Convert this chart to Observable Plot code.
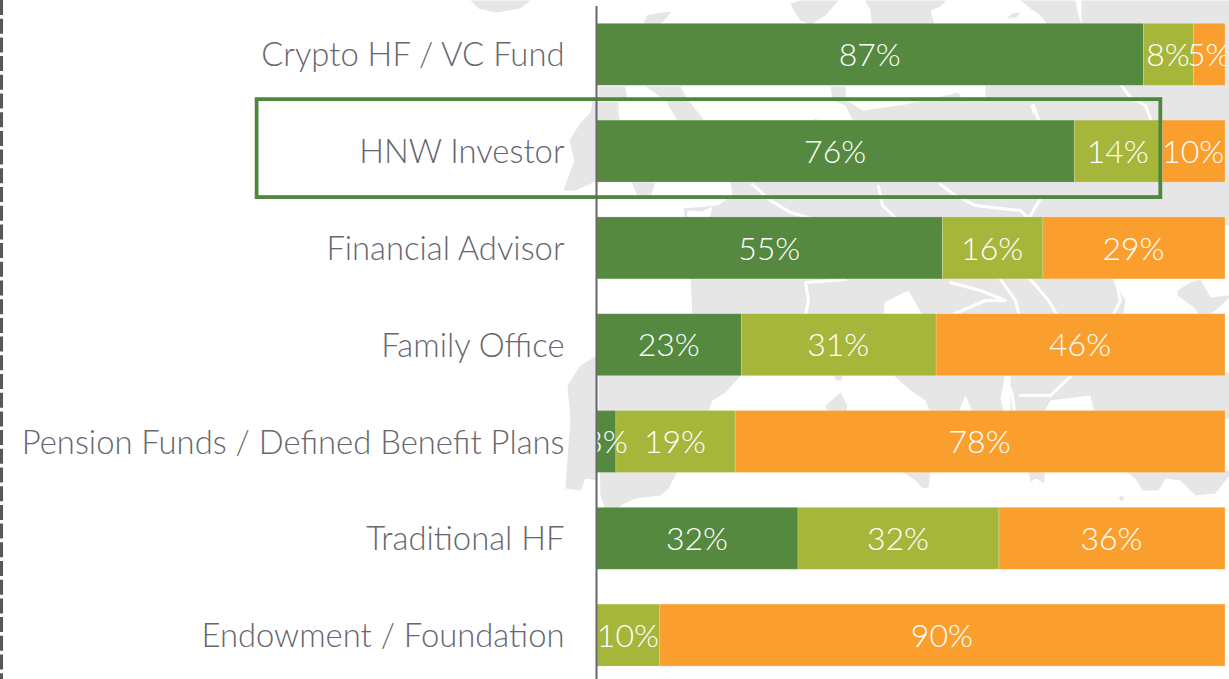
<!DOCTYPE html>
<html>
<head>
<meta charset="utf-8">
<script src="https://cdn.jsdelivr.net/npm/d3@7"></script>
<script src="https://cdn.jsdelivr.net/npm/@observablehq/plot@0.6"></script>
<style>
html,body{margin:0;padding:0;background:#fff;overflow:hidden}
#wrap{position:relative;width:1229px;height:679px}
#wrap svg{position:absolute;left:0;top:0;background:transparent}
</style>
</head>
<body>
<div id="wrap"></div>
<script>
const categories = ["Crypto HF / VC Fund","HNW Investor","Financial Advisor","Family Office","Pension Funds / Defined Benefit Plans","Traditional HF","Endowment / Foundation"];
const highShare   = [87,76,55,23,3,32,0];
const midShare    = [8,14,16,31,19,32,10];
const lowShare    = [5,10,29,46,78,36,90];
const seriesNames = ["High","Medium","Low"];
const seriesColors = ["#54893f","#a5b63b","#fa9f2d"];
const highlighted = "HNW Investor";

// faint world-map backdrop, as rough land outlines in picture units
const land = [
 [[470,0],[530,0],[520,8],[495,12],[478,8]],
 [[643,23],[646,15],[655,13],[671,11],[663,21],[650,28]],
 [[790,3],[800,0],[838,0],[825,15],[810,24],[800,20],[792,8]],
 [[865,0],[945,0],[940,6],[930,10],[935,28],[872,28],[870,10]],
 [[1006,18],[1012,13],[1020,12],[1016,17]],
 [[1020,0],[1075,0],[1078,15],[1082,28],[1050,28],[1040,15],[1030,8]],
 [[1081,0],[1229,0],[1229,90],[1081,90]],
 [[563,190],[574,160],[569,140],[580,122],[590,112],[592,101],[618,101],[618,112],[620,125],[597,125],[597,180],[575,190]],
 [[598,86],[625,86],[627,100],[598,100]],
 [[645,86],[680,86],[688,100],[708,125],[680,125],[665,100]],
 [[808,122],[815,118],[822,122],[822,130],[808,130]],
 [[830,86],[845,86],[846,100],[862,110],[905,104],[958,92],[962,100],[1000,100],[1030,105],[1036,125],[855,125],[845,105],[832,100]],
 [[985,85],[1229,85],[1229,185],[1036,185],[1033,105],[985,100]],
 [[631,182],[655,182],[650,196],[638,198]],
 [[730,180],[1229,180],[1229,225],[686,225],[683,208],[717,205],[732,195]],
 [[690,275],[1110,275],[1125,300],[1122,320],[692,320]],
 [[1177,290],[1190,282],[1200,279],[1210,297],[1229,295],[1229,297],[1215,310],[1200,319],[1195,308],[1177,295]],
 [[597,355],[580,365],[567,385],[570,420],[566,470],[565,488],[580,490],[585,478],[597,480],[597,380]],
 [[598,372],[743,372],[725,392],[712,400],[705,418],[598,418]],
 [[833,372],[843,372],[841,380],[835,380]],
 [[840,392],[847,405],[845,418],[830,418],[825,405]],
 [[890,372],[1005,372],[1000,398],[1005,418],[975,418],[965,395],[955,418],[932,418],[925,400],[910,390]],
 [[1010,372],[1229,372],[1229,418],[1095,418],[1090,395],[1050,400],[1040,418],[1010,418]],
 [[598,418],[705,418],[668,488],[660,495],[635,498],[620,505],[612,520],[605,510],[600,495]],
 [[900,470],[930,470],[928,487],[922,488],[915,480]],
 [[1028,470],[1044,470],[1044,483],[1035,478],[1030,481]],
 [[1125,470],[1229,470],[1229,475],[1215,493],[1195,495],[1180,480],[1165,478],[1158,490],[1142,490],[1135,478]],
 [[1118,498],[1121,495],[1124,498],[1121,501]]
];
const water = [
 [[883,320],[884,302],[896,296],[908,290],[925,320]],
 [[686,222],[687,210],[702,211],[712,206],[708,222]]
];
const coasts = [
 [[1121,85],[1130,97],[1145,105],[1150,118]],
 [[1033,105],[1040,125]],
 [[752,184],[770,200],[790,212],[825,222]],
 [[878,186],[882,205],[900,222]],
 [[940,184],[955,195],[975,205],[1000,208],[1020,210],[1030,220]],
 [[1040,198],[1030,215],[1022,222]],
 [[845,279],[805,282],[808,300],[805,315]],
 [[950,282],[980,290],[1005,300],[985,300],[950,315]],
 [[1000,279],[1015,300],[1020,320]],
 [[1030,279],[1048,300],[1060,320]],
 [[1115,279],[1120,300],[1110,320]],
 [[1005,376],[1012,395],[1015,420]],
 [[1020,395],[1050,395],[1070,376]]
];

const toRows = shapes => shapes.flatMap((shape, id) => shape.map(([x, y]) => ({id, x, y})));
const shares = [highShare, midShare, lowShare];
const rows = seriesNames.flatMap((series, s) =>
  categories.map((category, i) => ({category, series, value: shares[s][i]})));

const font = {fontFamily: "Lato", fontWeight: 300, background: "transparent"};

const backdrop = Plot.plot({
  width: 1229, height: 679, margin: 0, style: font,
  x: {domain: [0, 1229], range: [0, 1229], axis: null},
  y: {domain: [0, 679], range: [0, 679], axis: null},
  marks: [
    Plot.line(toRows(land), {x: "x", y: "y", z: "id", fill: "#e6e6e6", stroke: null}),
    Plot.line(toRows(water), {x: "x", y: "y", z: "id", fill: "#fff", stroke: null}),
    Plot.line(toRows(coasts), {x: "x", y: "y", z: "id", stroke: "#fff", strokeWidth: 3})
  ]
});

const chart = Plot.plot({
  width: 1229, height: 679,
  marginLeft: 597, marginRight: 4, marginTop: 6, marginBottom: 0,
  style: font,
  x: {domain: [0, 100], axis: null},
  y: {domain: categories, range: [5.9, 683.5], paddingInner: 0.36, paddingOuter: 0.18, round: false, axis: null},
  color: {domain: seriesNames, range: seriesColors},
  marks: [
    Plot.barX(rows, Plot.stackX({x: "value", y: "category", fill: "series", stroke: "#fff", strokeOpacity: 0.25, strokeWidth: 0.75})),
    Plot.text(rows.filter(d => d.value > 0), Plot.stackX({
      x: "value", y: "category", text: d => d.value + "%",
      fill: "#fff", fontSize: 32, fontWeight: 300, clip: true, dx: -1, dy: 1
    })),
    Plot.barX([highlighted], {
      x1: () => -54.2, x2: () => 89.7, y: d => d,
      insetTop: -21, insetBottom: -15,
      fill: "none", stroke: "#4f883d", strokeWidth: 3.8
    }),
    Plot.axisY({anchor: "left", tickSize: 0, tickPadding: 33, fontSize: 32.8, label: null, fill: "#66666e", dy: 1}),
    Plot.ruleX([0], {stroke: "#66666e", strokeWidth: 2, dx: -1}),
    Plot.ruleX([-94.9], {stroke: "#55555c", strokeWidth: 3, strokeDasharray: "15,3.7", insetTop: -6})
  ]
});

document.getElementById("wrap").append(backdrop, chart);
</script>
</body>
</html>
